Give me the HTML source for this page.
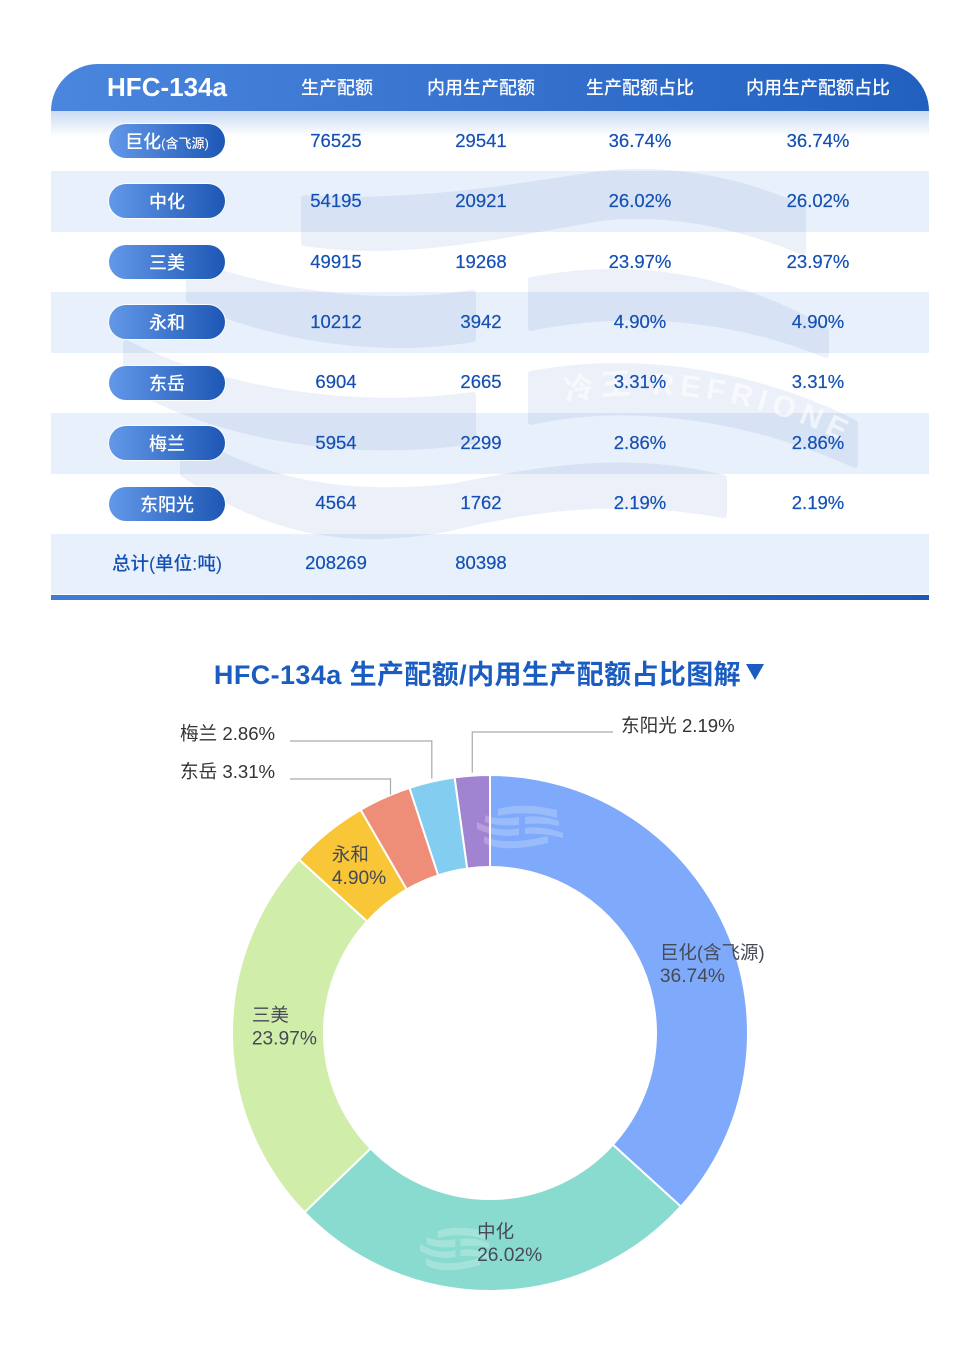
<!DOCTYPE html>
<html lang="zh">
<head>
<meta charset="utf-8">
<title>HFC-134a 生产配额</title>
<style>
html,body{margin:0;padding:0;background:#fff}
#page{position:relative;width:980px;height:1359px;overflow:hidden;background:#fff;font-family:"Liberation Sans","Noto Sans CJK SC",sans-serif}
.hdr{position:absolute;left:51px;top:64px;width:878px;height:47px;border-radius:47px 47px 0 0;background:linear-gradient(90deg,#4a86dd,#2260c0)}
.fade{position:absolute;left:51px;top:111px;width:878px;height:26px;background:linear-gradient(180deg,#cadbf4,#fff)}
.band{position:absolute;left:51px;width:878px;background:#e8f0fb}
.foot{position:absolute;left:51px;top:595px;width:878px;height:5px;background:linear-gradient(90deg,#3d7cd8,#1b5ab8)}
#wm{position:absolute;left:0;top:0}
.cell{position:absolute;width:170px;margin-left:-85px;height:30px;line-height:30px;text-align:center;font-size:18.5px;color:#1450b4;white-space:nowrap;-webkit-text-stroke:0.2px #1450b4}
.h{color:#fff;font-size:18px;font-weight:500;-webkit-text-stroke:0}
.hmain{color:#fff;font-size:26px;font-weight:bold;-webkit-text-stroke:0}
.pill{position:absolute;left:109px;width:116px;height:34px;line-height:36px;box-shadow:0 0 0 1px rgba(255,255,255,.85);border-radius:17px;background:linear-gradient(90deg,#6398e8,#1d57b5);color:#fff;font-size:18px;font-weight:500;text-align:center;white-space:nowrap}
.pill small{font-size:13px}
.total{font-size:18.5px;font-weight:500;color:#1450b4;-webkit-text-stroke:0}
#title{position:absolute;left:0;top:656px;width:978px;text-align:center;font-size:27px;letter-spacing:0.4px;line-height:38px;font-weight:bold;color:#1a5cc0;white-space:nowrap}
#title-arrow{display:inline-block;width:0;height:0;margin-left:5px;border-left:9.5px solid transparent;border-right:9.5px solid transparent;border-top:16px solid #1a5cc0;vertical-align:4px}
#chart{position:absolute;left:0;top:690px}
</style>
</head>
<body>
<div id="page">
  <div class="hdr"></div>
  <div class="fade"></div>
  <div class="band" style="top:171px;height:61px"></div>
  <div class="band" style="top:292px;height:61px"></div>
  <div class="band" style="top:413px;height:61px"></div>
  <div class="band" style="top:534px;height:60px"></div>
  <div class="foot"></div>

  <svg id="wm" width="980" height="620">
    <g fill="#1e5abe" stroke="#1e5abe" stroke-width="6" stroke-linejoin="round" opacity="0.08">
      <path d="M304,198 C400,205 500,190 600,174 C670,166 740,180 803,208 L803,252 C740,226 670,210 600,218 C500,236 400,258 304,243 Z"/>
      <path d="M189,261 C270,294 380,308 473,293 L473,339 C380,355 270,338 189,300 Z"/>
      <path d="M126,343 C220,390 350,412 473,395 L473,441 C350,459 220,438 126,384 Z"/>
      <path d="M183,433 C260,482 340,498 450,487 C530,472 620,452 724,478 L724,515 C620,496 530,508 450,528 C340,550 260,526 183,474 Z"/>
      <path d="M531,280 C630,261 730,275 826,330 L826,355 C730,316 630,308 531,328 Z"/>
      <path d="M531,374 C640,353 760,375 855,423 L855,465 C760,422 640,398 531,422 Z"/>
    </g>
    <path id="wm-curve" d="M566,402 C640,384 760,394 858,450" fill="none"/>
    <text font-size="30" font-weight="bold" fill="#fff" fill-opacity="0.6" letter-spacing="6" font-family="Liberation Sans, Noto Sans CJK SC, sans-serif"><textPath href="#wm-curve">冷王 REFRIONE</textPath></text>
  </svg>

  <div class="cell hmain" style="left:167px;top:72px">HFC-134a</div>
  <div class="cell h" style="left:337px;top:73px">生产配额</div>
  <div class="cell h" style="left:481px;top:73px">内用生产配额</div>
  <div class="cell h" style="left:640px;top:73px">生产配额占比</div>
  <div class="cell h" style="left:818px;top:73px">内用生产配额占比</div>

  <div class="pill" style="top:124px">巨化<small>(含飞源)</small></div>
  <div class="cell" style="left:336px;top:126px">76525</div>
  <div class="cell" style="left:481px;top:126px">29541</div>
  <div class="cell" style="left:640px;top:126px">36.74%</div>
  <div class="cell" style="left:818px;top:126px">36.74%</div>

  <div class="pill" style="top:184px">中化</div>
  <div class="cell" style="left:336px;top:186px">54195</div>
  <div class="cell" style="left:481px;top:186px">20921</div>
  <div class="cell" style="left:640px;top:186px">26.02%</div>
  <div class="cell" style="left:818px;top:186px">26.02%</div>

  <div class="pill" style="top:245px">三美</div>
  <div class="cell" style="left:336px;top:247px">49915</div>
  <div class="cell" style="left:481px;top:247px">19268</div>
  <div class="cell" style="left:640px;top:247px">23.97%</div>
  <div class="cell" style="left:818px;top:247px">23.97%</div>

  <div class="pill" style="top:305px">永和</div>
  <div class="cell" style="left:336px;top:307px">10212</div>
  <div class="cell" style="left:481px;top:307px">3942</div>
  <div class="cell" style="left:640px;top:307px">4.90%</div>
  <div class="cell" style="left:818px;top:307px">4.90%</div>

  <div class="pill" style="top:366px">东岳</div>
  <div class="cell" style="left:336px;top:367px">6904</div>
  <div class="cell" style="left:481px;top:367px">2665</div>
  <div class="cell" style="left:640px;top:367px">3.31%</div>
  <div class="cell" style="left:818px;top:367px">3.31%</div>

  <div class="pill" style="top:426px">梅兰</div>
  <div class="cell" style="left:336px;top:428px">5954</div>
  <div class="cell" style="left:481px;top:428px">2299</div>
  <div class="cell" style="left:640px;top:428px">2.86%</div>
  <div class="cell" style="left:818px;top:428px">2.86%</div>

  <div class="pill" style="top:487px">东阳光</div>
  <div class="cell" style="left:336px;top:488px">4564</div>
  <div class="cell" style="left:481px;top:488px">1762</div>
  <div class="cell" style="left:640px;top:488px">2.19%</div>
  <div class="cell" style="left:818px;top:488px">2.19%</div>

  <div class="cell total" style="left:167px;top:549px">总计(单位:吨)</div>
  <div class="cell" style="left:336px;top:548px">208269</div>
  <div class="cell" style="left:481px;top:548px">80398</div>

  <div id="title">HFC-134a 生产配额/内用生产配额占比图解<span id="title-arrow"></span></div>

  <svg id="chart" width="980" height="669" viewBox="0 690 980 669"></svg>
</div>

<script>
const categories = ['巨化(含飞源)', '中化', '三美', '永和', '东岳', '梅兰', '东阳光'];
const shares = [36.74, 26.02, 23.97, 4.90, 3.31, 2.86, 2.19];
const palette = ['#7fa9fa', '#8adbcf', '#d0eeaa', '#f8c637', '#ee8e78', '#82cdf0', '#a084d2'];

const NS = 'http://www.w3.org/2000/svg';
const svg = document.getElementById('chart');
const CX = 490, CY = 1033, R_OUT = 258, R_IN = 166, R_MID = 212;
const total = shares.reduce((a, b) => a + b, 0);
const angleOf = v => v / total * Math.PI * 2;
const px = (a, r) => CX + r * Math.sin(a);
const py = (a, r) => CY - r * Math.cos(a);

function make(tag, attrs) {
  const el = document.createElementNS(NS, tag);
  for (const k in attrs) el.setAttribute(k, attrs[k]);
  return el;
}
function addText(parent, x, y, str, anchor, size, fill) {
  const t = make('text', {x: x, y: y, 'text-anchor': anchor, 'font-size': size, fill: fill,
    'font-family': '"Liberation Sans","Noto Sans CJK SC",sans-serif'});
  t.textContent = str;
  parent.appendChild(t);
  return t;
}

// label placement rules (layout only)
const insideShift = [[29, 17], [15, -2], [5, -10], [1, -2]];
const outsideLayout = [
  null, null, null, null,
  {elbowY: 779, endX: 290, textX: 180, textY: 778, anchor: 'start', dx: 6},
  {elbowY: 741, endX: 290, textX: 180, textY: 740, anchor: 'start', dx: 0},
  {elbowY: 732, endX: 613, textX: 621, textY: 732, anchor: 'start', dx: 0}
];

let acc = 0;
const mids = [];
categories.forEach((name, i) => {
  const a0 = angleOf(acc), a1 = angleOf(acc + shares[i]);
  acc += shares[i];
  mids.push((a0 + a1) / 2);
  const large = a1 - a0 > Math.PI ? 1 : 0;
  const d = 'M' + px(a0, R_OUT) + ',' + py(a0, R_OUT) +
    ' A' + R_OUT + ',' + R_OUT + ' 0 ' + large + ' 1 ' + px(a1, R_OUT) + ',' + py(a1, R_OUT) +
    ' L' + px(a1, R_IN) + ',' + py(a1, R_IN) +
    ' A' + R_IN + ',' + R_IN + ' 0 ' + large + ' 0 ' + px(a0, R_IN) + ',' + py(a0, R_IN) + ' Z';
  const slice = make('path', {d: d, fill: palette[i], stroke: '#fff', 'stroke-width': 2});
  
  
  svg.appendChild(slice);
});

// translucent logo marks on the donut
[[478, 805, 1], [421, 1227, 0.84]].forEach(o => {
  const g = make('g', {transform: 'translate(' + o[0] + ',' + o[1] + ') scale(' + o[2] + ',1)', fill: '#fff', 'fill-opacity': 0.22});
  
  
  g.innerHTML = '<path d="M20,4 C35,-1 60,0 79,5 V13 C60,7 35,7 20,11 Z"/>' +
    '<path d="M7,10 C16,14 28,14 41,12 V20 C28,21 16,20 7,17 Z"/>' +
    '<path d="M47,12 C60,10 72,13 81,16 V21 C72,19 60,18 47,19 Z"/>' +
    '<path d="M-1,17 C14,25 28,26 41,23 V30 C28,32 14,31 -1,24 Z"/>' +
    '<path d="M47,23 C60,21 74,24 85,28 V33 C74,30 60,28 47,29 Z"/>' +
    '<path d="M6,31 C22,39 44,37 70,31 V38 C44,44 22,46 6,38 Z"/>';
  svg.appendChild(g);
});

categories.forEach((name, i) => {
  const a = mids[i], val = shares[i].toFixed(2) + '%';
  if (i < 4) {
    const x = px(a, R_MID) + insideShift[i][0], y = py(a, R_MID) + insideShift[i][1];
    const w = val.length * 10.4;
    const left = x - Math.max(w, name.length > 3 ? 106 : 0) / 2;
    const g = make('g', {});
    
    
    addText(g, left, y - 5, name, 'start', 18.5, '#454a55');
    addText(g, left, y + 18, val, 'start', 19.2, '#454a55');
    svg.appendChild(g);
  } else {
    const L = outsideLayout[i];
    const x0 = px(a, R_OUT) + L.dx, y0 = py(a, R_OUT) - 3;
    const line = make('polyline', {points: x0 + ',' + y0 + ' ' + x0 + ',' + L.elbowY + ' ' + L.endX + ',' + L.elbowY,
      fill: 'none', stroke: '#aaa', 'stroke-width': 1.2});
    
    
    svg.appendChild(line);
    const t = addText(svg, L.textX, L.textY, name + ' ' + val, L.anchor, 18.6, '#333');
    
    
  }
});
</script>
</body>
</html>
